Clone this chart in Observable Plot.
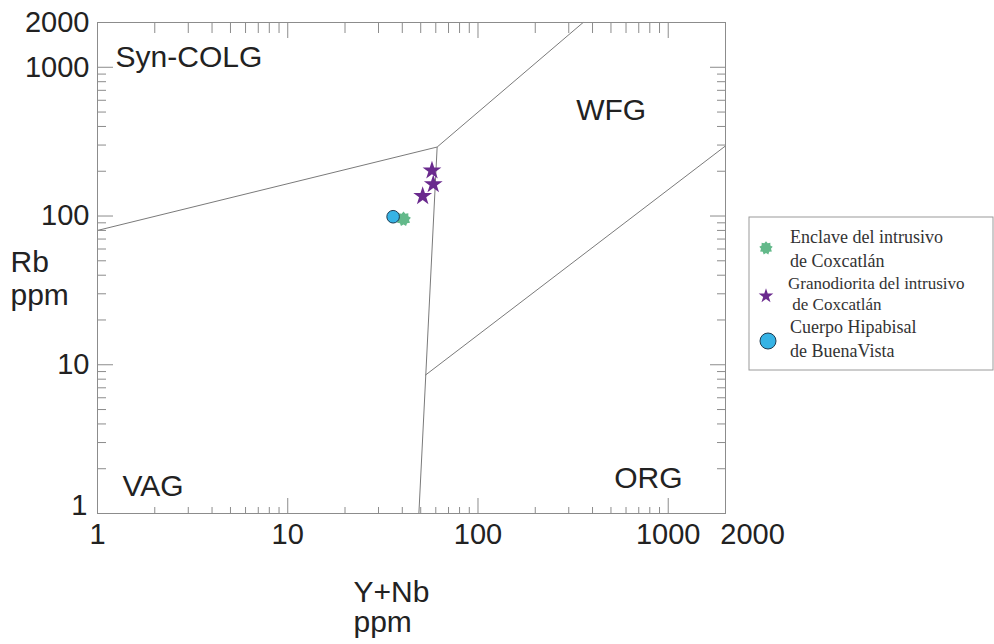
<!DOCTYPE html>
<html><head><meta charset="utf-8">
<script src="https://cdn.jsdelivr.net/npm/d3@7"></script>
<script src="https://cdn.jsdelivr.net/npm/@observablehq/plot@0.6"></script>
<style>
html,body{margin:0;padding:0;background:#fff;}
#wrap{position:relative;width:994px;height:644px;}
#legend{position:absolute;left:748px;top:216px;}
</style></head><body><div id="wrap"></div>
<script>
// ---- data ----
const groupNames = ["Enclave del intrusivo de Coxcatlán", "Granodiorita del intrusivo de Coxcatlán", "Cuerpo Hipabisal de BuenaVista"];
const legendLines = [["Enclave del intrusivo", "de Coxcatlán"], ["Granodiorita del intrusivo", " de Coxcatlán"], ["Cuerpo Hipabisal", "de BuenaVista"]];
const sampleGroup = [0, 1, 1, 1, 2];
const sampleYNb = [40.6, 57.3, 58.2, 51.2, 35.8];
const sampleRb = [95.5, 202, 163.5, 136, 98.9];

const boundaryX1 = [1, 61, 61, 52.8];
const boundaryY1 = [80, 291, 291, 8.5];
const boundaryX2 = [61, 357, 48.9, 2000];
const boundaryY2 = [291, 2000, 1, 296];

const regionName = ["Syn-COLG", "WFG", "VAG", "ORG"];
const regionYNb = [1.244, 328, 1.354, 520];
const regionRb = [1167, 517, 1.532, 1.72];

const majorTicks = [1, 10, 100, 1000];
const tickLabels = [1, 10, 100, 1000, 2000];
const minorTicks = [1, 10, 100].flatMap(p => [2, 3, 4, 5, 6, 7, 8, 9].map(m => m * p));

// ---- build ----
const samples = sampleYNb.map((x, i) => ({x, y: sampleRb[i], g: sampleGroup[i]}));
const boundaries = boundaryX1.map((x1, i) => ({x1, y1: boundaryY1[i], x2: boundaryX2[i], y2: boundaryY2[i]}));
const regions = regionName.map((name, i) => ({name, x: regionYNb[i], y: regionRb[i]}));

const burst = {
  draw(context, size) {
    const R = Math.sqrt(size / Math.PI);
    const r = R * 0.74, n = 9;
    for (let i = 0; i < 2 * n; i++) {
      const a = i * Math.PI / n - Math.PI / 2;
      const rad = i % 2 ? r : R;
      const px = rad * Math.cos(a), py = rad * Math.sin(a);
      if (i === 0) context.moveTo(px, py); else context.lineTo(px, py);
    }
    context.closePath();
  }
};

const groupStyle = [
  {symbol: burst, r: 7.5, fill: "#63b98a", stroke: "none"},
  {symbol: "star", r: 5.9, fill: "#6a2a8e", stroke: "none"},
  {symbol: "circle", r: 6.3, fill: "#36b3e5", stroke: "#1e3a50"}
];

const frameColor = "#8c8c8c";
const tickMark = (anchor, ticks, size) =>
  (anchor === "left" || anchor === "right" ? Plot.axisY : Plot.axisX)({
    anchor, ticks, tickSize: -size, fill: "none", label: null, stroke: frameColor, strokeWidth: 1
  });
const fmt = d => String(d);

const chart = Plot.plot({
  width: 994, height: 644,
  marginLeft: 97, marginRight: 269, marginTop: 22, marginBottom: 131,
  x: {type: "log", domain: [1, 2000], axis: null},
  y: {type: "log", domain: [1, 2000], axis: null},
  style: {fontFamily: "'Liberation Sans', Arial, sans-serif", color: "#222", background: "#fff", overflow: "visible"},
  marks: [
    Plot.link(boundaries, {x1: "x1", y1: "y1", x2: "x2", y2: "y2", stroke: "#7a7a7a", strokeWidth: 1}),
    tickMark("bottom", minorTicks, 6), tickMark("bottom", majorTicks, 15),
    tickMark("top", minorTicks, 10), tickMark("top", majorTicks, 15),
    tickMark("left", minorTicks, 9), tickMark("left", majorTicks, 16),
    tickMark("right", minorTicks, 9), tickMark("right", majorTicks, 16),
    Plot.frame({stroke: frameColor, strokeWidth: 1}),
    Plot.axisY({anchor: "left", ticks: tickLabels.filter(d => d !== 1), tickSize: 0, tickPadding: 8, tickFormat: fmt, fontSize: 29, label: null, fill: "#222"}),
    Plot.axisY({anchor: "left", ticks: [tickLabels[0]], tickSize: 0, tickPadding: 10, tickFormat: fmt, fontSize: 29, label: null, fill: "#222", dy: -8}),
    Plot.axisX({anchor: "bottom", ticks: tickLabels.filter(d => d !== 2000), tickSize: 0, tickPadding: 10, tickFormat: fmt, fontSize: 29, label: null, fill: "#222"}),
    Plot.axisX({anchor: "bottom", ticks: [tickLabels[4]], tickSize: 0, tickPadding: 10, tickFormat: fmt, fontSize: 29, label: null, fill: "#222", dx: 27}),
    Plot.text(regions, {x: "x", y: "y", text: "name", textAnchor: "start", fontSize: 30, fill: "#222"}),
    Plot.text(["Rb\nppm"], {text: d => d, frameAnchor: "left", textAnchor: "start", dx: -87, dy: 10, fontSize: 30, lineHeight: 1.1, fill: "#222"}),
    Plot.text(["Y+Nb\nppm"], {text: d => d, frameAnchor: "bottom-left", textAnchor: "start", lineAnchor: "top", dx: 256, dy: 67, fontSize: 30, lineHeight: 1.0, fill: "#222"}),
    ...[0, 2, 1].map(g => Plot.dot(samples.filter(d => d.g === g), {x: "x", y: "y", ...groupStyle[g], strokeWidth: 1}))
  ]
});

const wrap = document.getElementById("wrap");
wrap.appendChild(chart);

// ---- legend ----
const leg = d3.create("svg").attr("id", "legend").attr("width", 246).attr("height", 156)
  .style("font-family", "'Liberation Serif', 'Times New Roman', serif").style("font-size", "18px");
leg.append("rect").attr("x", 1).attr("y", 1).attr("width", 244).attr("height", 153)
  .attr("fill", "#fff").attr("stroke", "#9a9a9a").attr("stroke-width", 1);
const legSym = [
  {cx: 18, cy: 32, r: 6.8, baselines: [27, 51], tx: 42},
  {cx: 18, cy: 80, r: 4.6, baselines: [73, 94], tx: 40},
  {cx: 20, cy: 125, r: 8.0, baselines: [117, 141], tx: 42}
];
legSym.forEach((s, g) => {
  const st = groupStyle[g];
  const type = g === 0 ? burst : g === 1 ? d3.symbolStar : d3.symbolCircle;
  leg.append("path")
    .attr("transform", `translate(${s.cx},${s.cy})`)
    .attr("d", d3.symbol(type, Math.PI * s.r * s.r)())
    .attr("fill", st.fill).attr("stroke", st.stroke).attr("stroke-width", 1);
  legendLines[g].forEach((line, j) => {
    leg.append("text").attr("x", s.tx).attr("y", s.baselines[j]).attr("fill", "#333")
      .attr("xml:space", "preserve").style("white-space", "pre")
      .style("font-size", g === 1 ? "17px" : "18px").text(line);
  });
});
wrap.appendChild(leg.node());
</script>
</body></html>
